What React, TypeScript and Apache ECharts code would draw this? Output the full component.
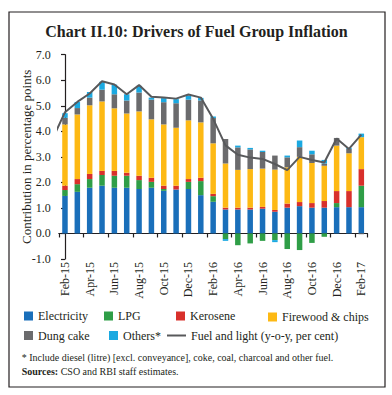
import React, { useEffect, useRef } from "react";
import * as echarts from "echarts";

const categories = [
  "Feb-15", "Mar-15", "Apr-15", "May-15", "Jun-15", "Jul-15", "Aug-15", "Sep-15",
  "Oct-15", "Nov-15", "Dec-15", "Jan-16", "Feb-16", "Mar-16", "Apr-16", "May-16",
  "Jun-16", "Jul-16", "Aug-16", "Sep-16", "Oct-16", "Nov-16", "Dec-16", "Jan-17", "Feb-17",
];

const electricity = [1.47, 1.63, 1.79, 1.87, 1.79, 1.79, 1.74, 1.79, 1.67, 1.72, 1.74, 1.5, 1.24, 0.94, 0.94, 0.94, 0.97, 0.85, 1.01, 1.07, 1.01, 1.01, 1.03, 1.03, 1.03];
const lpg = [0.23, 0.3, 0.34, 0.42, 0.47, 0.47, 0.35, 0.23, 0.07, 0, 0.28, 0.55, 0.22, -0.22, -0.46, -0.39, -0.29, -0.26, -0.61, -0.65, -0.37, -0.13, 0.16, 0, 0.84];
const kerosene = [0.17, 0.2, 0.2, 0.16, 0.19, 0.12, 0.17, 0.16, 0.13, 0.15, 0.11, 0.13, 0.09, 0.07, 0.07, 0.07, 0.07, 0.07, 0.16, 0.16, 0.18, 0.26, 0.47, 0.63, 0.65];
const firewood = [2.4, 2.53, 2.69, 2.72, 2.45, 2.32, 2.52, 2.29, 2.4, 2.27, 2.3, 2.17, 1.98, 1.73, 1.48, 1.51, 1.5, 1.58, 1.42, 1.77, 1.57, 1.38, 1.78, 1.48, 1.25];
const dungCake = [0.26, 0.25, 0.3, 0.46, 0.55, 0.51, 0.74, 0.77, 0.87, 0.96, 0.81, 0.86, 0.99, 0.96, 0.88, 0.77, 0.65, 0.55, 0.39, 0.38, 0.34, 0.09, 0.3, 0.17, -0.03];
const others = [0.18, 0.24, 0.22, 0.31, 0.38, 0.24, 0.26, 0.08, 0.16, 0.16, 0.16, 0.1, 0.06, -0.07, 0.07, 0.06, 0.05, -0.08, 0.07, 0.26, 0.14, 0.14, 0, 0.04, 0.14];

// Fuel and light (y-o-y, per cent): first value is Jan-15, only its segment edge is visible
const fuelLight = [3.71, 4.75, 5.15, 5.48, 5.96, 5.83, 5.45, 5.81, 5.35, 5.32, 5.28, 5.44, 5.32, 4.49, 3.45, 3.08, 2.97, 2.92, 2.72, 2.48, 3.0, 2.88, 2.78, 3.72, 3.31, 3.87];

const yTicks = { min: -1, max: 7, interval: 1 };

const FONT = "'Liberation Serif', 'Times New Roman', serif";
const INK = "#231f20";

const colors = {
  electricity: "#1a6fba",
  lpg: "#2f9e47",
  kerosene: "#d8302b",
  firewood: "#fdb914",
  dung: "#6b6b6d",
  others: "#1ba9e1",
  line: "#58595b",
};

export default function App() {
  const ref = useRef<HTMLDivElement>(null);

  useEffect(() => {
    if (!ref.current) return;
    const chart = echarts.init(ref.current, undefined, { renderer: "svg" });

    const barSeries = (name: string, data: number[], color: string) => ({
      name,
      type: "bar",
      stack: "total",
      data,
      barWidth: 5.5,
      xAxisIndex: 0,
      yAxisIndex: 0,
      itemStyle: { color },
    });

    const legendItem = (name: string, left: number, top: number, extra: any = {}) => ({
      data: [name],
      left,
      top,
      padding: 0,
      itemWidth: 9,
      itemHeight: 9,
      itemGap: 0,
      icon: "rect",
      selectedMode: false,
      textStyle: { fontFamily: FONT, fontSize: 12, color: INK, padding: [0, 0, 0, 0] },
      ...extra,
    });

    const option: any = {
      animation: false,
      textStyle: { fontFamily: FONT },
      title: {
        text: "Chart II.10: Drivers of Fuel Group Inflation",
        left: 196.5,
        textAlign: "center",
        top: 23,
        padding: 0,
        textStyle: { fontFamily: FONT, fontSize: 16, fontWeight: "bold", color: INK },
      },
      grid: { left: 58.8, right: 24.5, top: 54.7, bottom: 136 },
      xAxis: [
        {
          type: "category",
          data: categories,
          position: "bottom",
          boundaryGap: true,
          axisLine: { show: true, onZero: true, lineStyle: { color: INK, width: 1.2 } },
          axisTick: { show: true, interval: 1, length: 4, lineStyle: { color: INK, width: 1.2 } },
          axisLabel: { show: false },
          splitLine: { show: false },
        },
        {
          type: "category",
          data: categories,
          position: "bottom",
          boundaryGap: true,
          axisLine: { show: false, onZero: false },
          axisTick: { show: false },
          axisLabel: {
            show: true,
            interval: 1,
            rotate: 90,
            margin: 3,
            fontFamily: FONT,
            fontSize: 12,
            color: INK,
          },
          splitLine: { show: false },
        },
        {
          type: "value",
          position: "top",
          min: -0.5,
          max: categories.length - 0.5,
          show: false,
        },
      ],
      yAxis: {
        type: "value",
        min: yTicks.min,
        max: yTicks.max,
        interval: yTicks.interval,
        name: "Contribution in percentage points",
        nameLocation: "middle",
        nameGap: 26,
        nameMoveOverlap: false,
        nameTextStyle: { fontFamily: FONT, fontSize: 13, color: INK },
        axisLine: { show: true, lineStyle: { color: INK, width: 1.2 } },
        axisTick: { show: true, length: 4, lineStyle: { color: INK, width: 1.2 } },
        axisLabel: {
          margin: 8,
          fontFamily: FONT,
          fontSize: 12,
          color: INK,
          formatter: (v: number) => v.toFixed(1),
        },
        splitLine: { show: false },
      },
      legend: [
        legendItem("Electricity", 24, 310),
        legendItem("LPG", 104, 310),
        legendItem("Kerosene", 176, 310),
        legendItem("Firewood & chips", 268, 311),
        legendItem("Dung cake", 24, 329.5),
        legendItem("Others*", 109, 329.5),
        legendItem("Fuel and light (y-o-y, per cent)", 167, 329.5, { itemWidth: 19, itemHeight: 2 }),
      ],
      series: [
        barSeries("Electricity", electricity, colors.electricity),
        barSeries("LPG", lpg, colors.lpg),
        barSeries("Kerosene", kerosene, colors.kerosene),
        barSeries("Firewood & chips", firewood, colors.firewood),
        barSeries("Dung cake", dungCake, colors.dung),
        barSeries("Others*", others, colors.others),
        {
          name: "Fuel and light (y-o-y, per cent)",
          type: "line",
          xAxisIndex: 2,
          yAxisIndex: 0,
          data: fuelLight.map((v, i) => [i - 1, v]),
          symbol: "none",
          clip: true,
          z: 5,
          lineStyle: { color: colors.line, width: 2 },
          itemStyle: { color: colors.line },
        },
      ],
      graphic: [
        {
          type: "rect",
          silent: true,
          shape: { x: 9, y: 12, width: 376, height: 375 },
          style: { fill: "none", stroke: INK, lineWidth: 1.2 },
        },
        {
          type: "text",
          silent: true,
          x: 21.7,
          y: 357.7,
          style: {
            text: "* Include diesel (litre) [excl. conveyance], coke, coal, charcoal and other fuel.",
            font: `10px ${FONT}`,
            fill: INK,
            verticalAlign: "middle",
          },
        },
        {
          type: "text",
          silent: true,
          x: 21.7,
          y: 371.7,
          style: {
            text: "{b|Sources:} CSO and RBI staff estimates.",
            font: `10px ${FONT}`,
            fill: INK,
            verticalAlign: "middle",
            rich: {
              b: { fontWeight: "bold", fontFamily: FONT, fontSize: 10, fill: INK },
            },
          },
        },
      ],
    };

    chart.setOption(option);
    return () => chart.dispose();
  }, []);

  return (
    <div
      ref={ref}
      style={{ position: "fixed", left: 0, top: 0, width: 392, height: 395, background: "#fff" }}
    />
  );
}
